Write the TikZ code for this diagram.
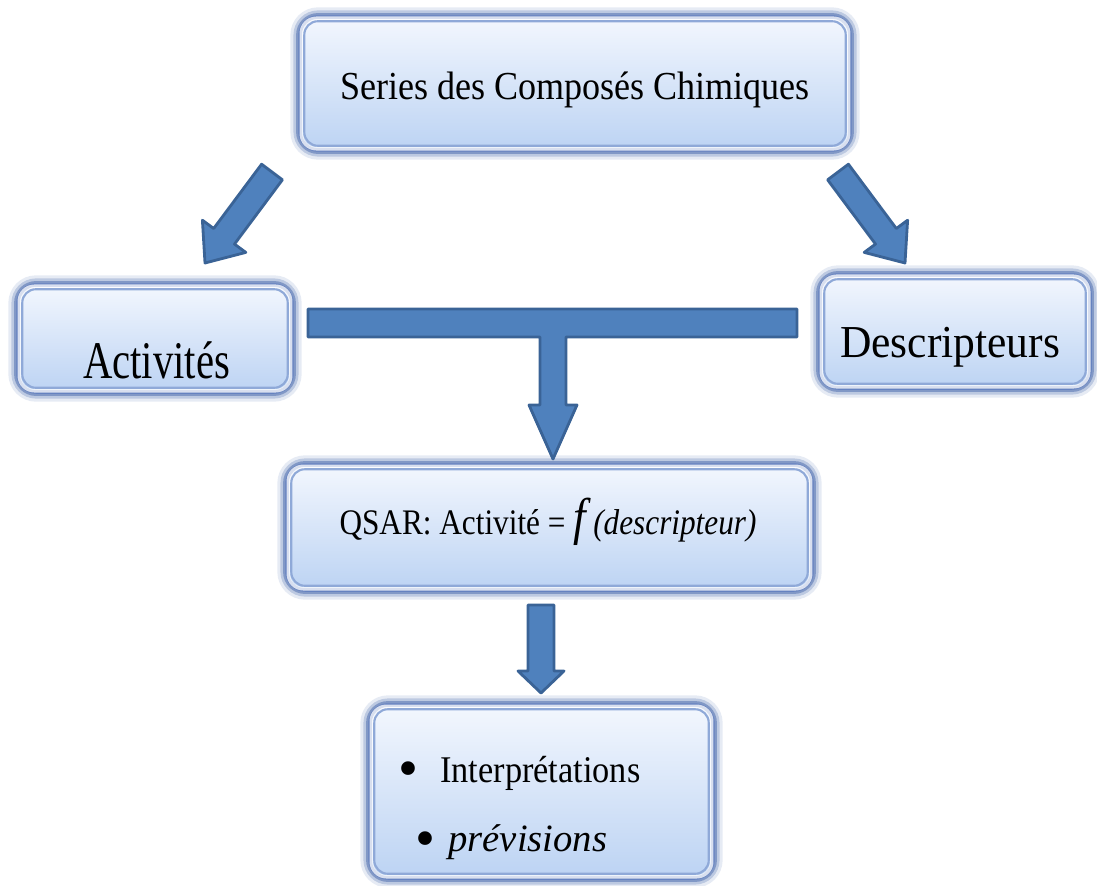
\documentclass[tikz,border=0pt]{standalone}
\usepackage{fontspec}
\usepackage{graphicx}
\setmainfont{Liberation Serif}
\usetikzlibrary{calc}
\definecolor{glow}{HTML}{5070B0}
\definecolor{edge}{HTML}{6582C0}
\definecolor{filltop}{HTML}{F3F7FE}
\definecolor{fillbot}{HTML}{BCD3F3}
\definecolor{innerc}{HTML}{8FA9D8}
\definecolor{arrfill}{HTML}{4F81BD}
\definecolor{arrdraw}{HTML}{3A6396}
\begin{document}
\begin{tikzpicture}[x=0.02cm,y=-0.02cm,
  box/.style={rectangle, rounded corners=0.36cm, draw=edge, line width=2pt,
    top color=filltop, bottom color=fillbot, inner sep=0pt,
    preaction={draw=glow, draw opacity=0.14, line width=11pt},
    preaction={draw=glow, draw opacity=0.28, line width=7.5pt},
    preaction={draw=glow, draw opacity=0.55, line width=4.5pt}},
  whiteband/.style={draw=white, draw opacity=0.75, line width=2pt, rounded corners=0.3cm},
  innerline/.style={draw=innerc, line width=1.2pt, rounded corners=0.27cm},
  lbl/.style={inner sep=0pt, text=black},
  blockarrow/.style={fill=arrfill, draw=arrdraw, line width=1.6pt, line join=round}]
\useasboundingbox (0,0) rectangle (1097,885);

% boxes
\node[box, minimum width=11cm, minimum height=2.66cm] (top) at (575,83.5) {};
\node[box, minimum width=5.48cm, minimum height=2.14cm] (act) at (155,338.5) {};
\node[box, minimum width=5.4cm, minimum height=2.26cm] (desc) at (955,331.5) {};
\node[box, minimum width=10.5cm, minimum height=2.5cm] (qsar) at (549.5,527.5) {};
\node[box, minimum width=6.86cm, minimum height=3.46cm] (res) at (541.5,791.5) {};

\foreach \b in {top,act,desc,qsar,res}{
  \draw[whiteband] ([shift={(3,3)}]\b.north west) rectangle ([shift={(-3,-3)}]\b.south east);
  \draw[innerline] ([shift={(6,6)}]\b.north west) rectangle ([shift={(-6,-6)}]\b.south east);
}

% labels
\node[lbl] (toptxt) at (575,90) {\resizebox{9.4cm}{!}{\scalebox{1}[1.1]{Series des Composés Chimiques}}};
\node[lbl] (acttxt) at (156.5,360) {\resizebox{2.94cm}{!}{\scalebox{1}[1.3]{Activités}}};
\node[lbl] (desctxt) at (950,347) {\resizebox{4.4cm}{!}{\scalebox{1}[1.05]{Descripteurs}}};
\node[lbl] (qsartxt) at (548,522) {\resizebox{8.34cm}{!}{\scalebox{1}[1.15]{QSAR: Activité = {\itshape\Large f\,}{\itshape(descripteur)}}}};
\node[lbl] (b1) at (408,775) {\resizebox{0.4cm}{!}{\textbullet}};
\node[lbl, anchor=west] (r1) at (440,773) {\resizebox{4cm}{!}{\scalebox{1}[1.1]{Interprétations}}};
\node[lbl] (b2) at (425,845) {\resizebox{0.4cm}{!}{\textbullet}};
\node[lbl, anchor=west] (r2) at (448,842) {\resizebox{3.18cm}{!}{\itshape prévisions}};

% block arrows
\draw[blockarrow] (261.6,164.2) -- (282.4,179.8) -- (234.5,244.1) -- (245.8,252.4)
  -- (205,263) -- (202.4,220.2) -- (213.7,228.5) -- cycle;
\draw[blockarrow] (848.4,164.2) -- (827.6,179.8) -- (875.5,244.1) -- (864.2,252.4)
  -- (905,263) -- (907.6,220.2) -- (896.3,228.5) -- cycle;
\draw[blockarrow] (308,309) -- (797,309) -- (797,337) -- (566,337) -- (566,405)
  -- (577,405) -- (553,459) -- (529,405) -- (540,405) -- (540,337) -- (308,337) -- cycle;
\draw[blockarrow] (528,605) -- (554,605) -- (554,671) -- (564,671) -- (541,693)
  -- (518,671) -- (528,671) -- cycle;
\end{tikzpicture}
\end{document}
